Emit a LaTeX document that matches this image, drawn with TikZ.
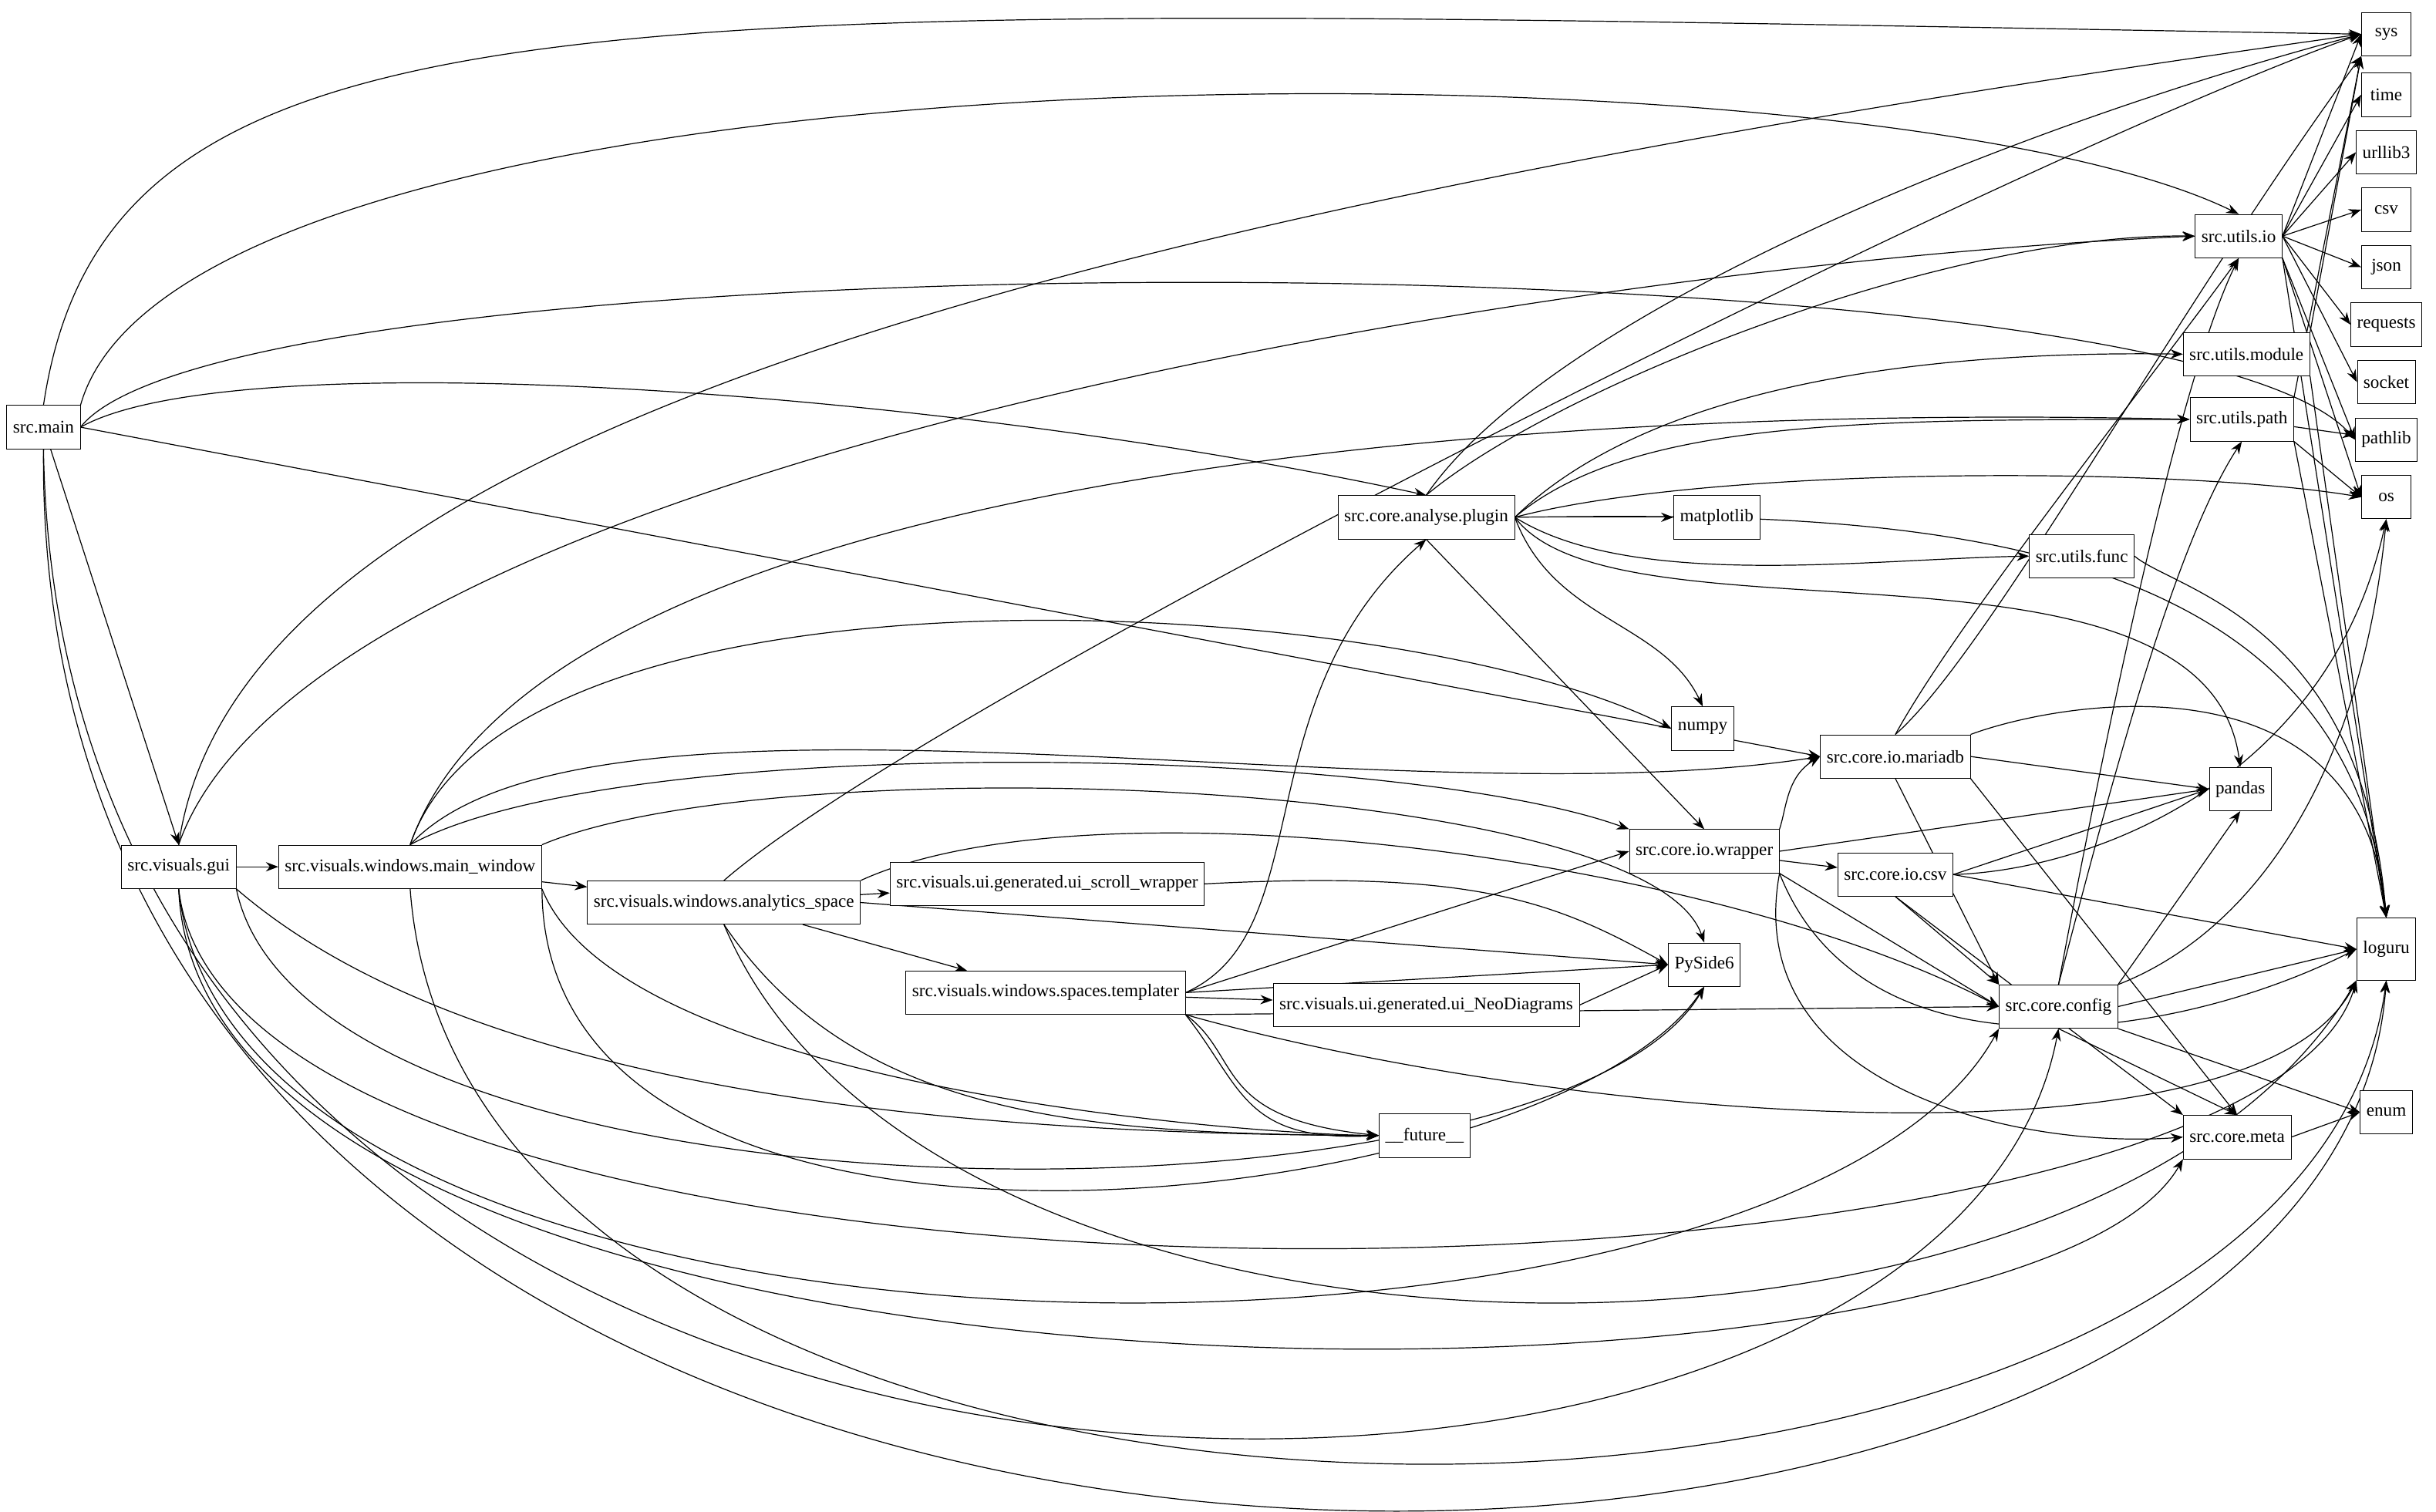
\documentclass[tikz,border=0pt]{standalone}
\usepackage{fontspec}
\setmainfont{Liberation Serif}
\usetikzlibrary{arrows.meta}
\pgfdeclarelayer{bg}
\pgfsetlayers{bg,main}
\begin{document}
\begin{tikzpicture}[x=1pt,y=-1pt,
 nd/.style={draw,fill=white,rectangle,minimum height=28pt,minimum width=32pt,inner xsep=4pt,font=\fontsize{11.5}{13}\selectfont},
 e/.style={-{Stealth[length=8pt,width=6pt]},line width=0.6pt}]
\useasboundingbox (0,0) rectangle (1568,973);
\node[nd] (sys) at (1536,22) {sys};
\node[nd] (time) at (1536,61) {time};
\node[nd] (urllib) at (1536,98) {urllib3};
\node[nd] (csv) at (1536,135) {csv};
\node[nd] (json) at (1536,172) {json};
\node[nd] (requests) at (1536,209) {requests};
\node[nd] (socket) at (1536,246) {socket};
\node[nd] (pathlib) at (1536,283) {pathlib};
\node[nd] (os) at (1536,320) {os};
\node[nd,minimum height=40pt] (loguru) at (1536,611) {loguru};
\node[nd] (enum) at (1536,716) {enum};
\node[nd] (uio) at (1441,152) {src.utils.io};
\node[nd] (umod) at (1446,228) {src.utils.module};
\node[nd] (upath) at (1443,270) {src.utils.path};
\node[nd] (ufunc) at (1340,358) {src.utils.func};
\node[nd] (plugin) at (918,333) {src.core.analyse.plugin};
\node[nd] (mpl) at (1105,333) {matplotlib};
\node[nd] (numpy) at (1096,469) {numpy};
\node[nd] (maria) at (1220,487) {src.core.io.mariadb};
\node[nd] (pandas) at (1442,508) {pandas};
\node[nd] (wrap) at (1097,548) {src.core.io.wrapper};
\node[nd] (iocsv) at (1220,563) {src.core.io.csv};
\node[nd] (pyside) at (1097,621) {PySide6};
\node[nd] (config) at (1325,648) {src.core.config};
\node[nd] (meta) at (1440,732) {src.core.meta};
\node[nd] (future) at (917,731) {\_\_future\_\_};
\node[nd] (main) at (28,275) {src.main};
\node[nd] (gui) at (115,558) {src.visuals.gui};
\node[nd] (mw) at (264,558) {src.visuals.windows.main\_window};
\node[nd] (as) at (466,581) {src.visuals.windows.analytics\_space};
\node[nd] (scroll) at (674,569) {src.visuals.ui.generated.ui\_scroll\_wrapper};
\node[nd] (tmpl) at (673,639) {src.visuals.windows.spaces.templater};
\node[nd] (neo) at (918,647) {src.visuals.ui.generated.ui\_NeoDiagrams};
\begin{pgfonlayer}{bg}
% src.main
\draw[e] (main.north) .. controls (70,-20) and (400,3) .. (sys.west);
\draw[e] (main.north east) .. controls (120,20) and (1200,20) .. (uio.north);
\draw[e] (main.east) .. controls (150,150) and (1400,150) .. (pathlib.west);
\draw[e] (main.east) .. controls (150,220) and (600,250) .. (plugin.north);
\draw[e] (main.east) -- (maria.west);
\draw[e] (main) -- (gui.north);
\draw[e] (main.south) .. controls (40,1060) and (1250,1060) .. (config.south);
\draw[e] (main.south) .. controls (20,1150) and (1500,1117) .. (loguru.south);
% gui
\draw[e] (gui.north) .. controls (150,300) and (600,150) .. (sys.west);
\draw[e] (gui.north) .. controls (200,300) and (1000,170) .. (uio.west);
\draw[e] (gui) -- (mw);
\draw[e] (gui.south east) .. controls (300,700) and (600,730) .. (future.west);
\draw[e] (gui.south) .. controls (150,910) and (1150,910) .. (config.south west);
\draw[e] (gui.south) .. controls (130,930) and (1300,930) .. (meta.south west);
\draw[e] (gui.south) .. controls (150,880) and (1450,860) .. (loguru.south west);
\draw[e] (gui.south east) .. controls (200,800) and (1000,800) .. (pyside.south);
% main_window
\draw[e] (mw.north) .. controls (350,300) and (1000,260) .. (upath.west);
\draw[e] (mw.north) .. controls (330,350) and (900,380) .. (numpy.west);
\draw[e] (mw.north) .. controls (380,420) and (900,530) .. (maria.west);
\draw[e] (mw.north) .. controls (400,470) and (900,480) .. (wrap.north west);
\draw[e] (mw.north east) .. controls (500,480) and (1060,500) .. (pyside.north);
\draw[e] (mw) -- (as);
\draw[e] (mw.south east) .. controls (400,700) and (800,730) .. (future.west);
\draw[e] (mw.south) .. controls (300,1060) and (1480,1050) .. (loguru.south);
\draw[e] (mw.south east) .. controls (350,860) and (1000,780) .. (pyside.south);
% analytics_space
\draw[e] (as.north) .. controls (600,450) and (1300,100) .. (sys.west);
\draw[e] (as) -- (scroll);
\draw[e] (as.east) -- (pyside.west);
\draw[e] (as) -- (tmpl);
\draw[e] (as.south) .. controls (550,720) and (700,730) .. (future.west);
\draw[e] (as.north east) .. controls (700,500) and (1100,550) .. (config.west);
\draw[e] (as.south) .. controls (600,913) and (1350,913) .. (loguru.south west);
\draw[e] (scroll.east) .. controls (950,560) and (1000,580) .. (pyside.west);
\draw[e] (neo.east) -- (pyside.west);
% templater
\draw[e] (tmpl.east) .. controls (850,600) and (800,450) .. (plugin.south);
\draw[e] (tmpl.east) -- (wrap.west);
\draw[e] (tmpl.east) -- (pyside.west);
\draw[e] (tmpl) -- (neo);
\draw[e] (tmpl.south east) -- (config.west);
\draw[e] (tmpl.south east) .. controls (800,680) and (780,720) .. (future.west);
\draw[e] (tmpl.south east) .. controls (800,700) and (800,735) .. (future.west);
\draw[e] (tmpl.south east) .. controls (1000,720) and (1450,760) .. (loguru.south west);
% plugin
\draw[e] (plugin.north) .. controls (1000,200) and (1300,80) .. (sys.west);
\draw[e] (plugin.north) .. controls (1000,250) and (1250,150) .. (uio.west);
\draw[e] (plugin.east) .. controls (1050,260) and (1200,225) .. (umod.west);
\draw[e] (plugin.east) .. controls (1050,270) and (1200,270) .. (upath.west);
\draw[e] (plugin.east) .. controls (1100,300) and (1400,300) .. (os.west);
\draw[e] (plugin) -- (mpl);
\draw[e] (plugin.east) .. controls (1200,330) and (1510,330) .. (loguru.north);
\draw[e] (plugin.east) .. controls (1050,380) and (1200,360) .. (ufunc.west);
\draw[e] (plugin.east) .. controls (1040,420) and (1420,330) .. (pandas.north);
\draw[e] (plugin.east) .. controls (1000,400) and (1070,400) .. (numpy.north);
\draw[e] (plugin.south) -- (wrap.north);
\draw[e] (ufunc.east) .. controls (1400,380) and (1520,400) .. (loguru.north);
% utils
\draw[e] (uio.east) -- (sys.west);
\draw[e] (uio.east) -- (time.west);
\draw[e] (uio.east) -- (urllib.west);
\draw[e] (uio.east) -- (csv.west);
\draw[e] (uio.east) -- (json.west);
\draw[e] (uio.east) -- (requests.west);
\draw[e] (uio.east) -- (socket.west);
\draw[e] (uio.south east) -- (pathlib.west);
\draw[e] (uio.south east) -- (os.west);
\draw[e] (uio.south east) -- (loguru.north);
\draw[e] (umod.north east) -- (sys.south west);
\draw[e] (umod.south east) -- (loguru.north);
\draw[e] (upath.north east) -- (sys.south west);
\draw[e] (upath) -- (pathlib);
\draw[e] (upath.south east) -- (os.west);
\draw[e] (upath.south east) -- (loguru.north);
% core
\draw[e] (maria.north) .. controls (1260,400) and (1380,250) .. (uio.south);
\draw[e] (maria.north) .. controls (1280,420) and (1400,200) .. (sys.south west);
\draw[e] (maria.east) -- (pandas.west);
\draw[e] (maria.south) -- (config.north west);
\draw[e] (maria.south east) -- (meta.north);
\draw[e] (maria.north east) .. controls (1330,450) and (1520,420) .. (loguru.north);
\draw[e] (wrap.north east) .. controls (1150,520) and (1150,500) .. (maria.west);
\draw[e] (wrap.east) -- (pandas.west);
\draw[e] (wrap) -- (iocsv);
\draw[e] (wrap.south east) -- (config.west);
\draw[e] (wrap.south east) .. controls (1200,700) and (1400,670) .. (loguru.west);
\draw[e] (wrap.south east) .. controls (1120,700) and (1300,740) .. (meta.west);
\draw[e] (iocsv.east) -- (pandas.west);
\draw[e] (iocsv.south) -- (config.north west);
\draw[e] (iocsv.south) -- (meta.north west);
\draw[e] (iocsv.east) -- (loguru.west);
\draw[e] (iocsv.east) .. controls (1350,560) and (1500,500) .. (os.south);
\draw[e] (config.north) .. controls (1350,500) and (1400,250) .. (uio.south);
\draw[e] (config.north) .. controls (1360,500) and (1400,350) .. (upath.south);
\draw[e] (config.north east) -- (pandas.south);
\draw[e] (config.north east) .. controls (1450,600) and (1520,500) .. (os.south);
\draw[e] (config.east) -- (loguru.west);
\draw[e] (config.south) -- (meta.north);
\draw[e] (config.south east) -- (enum.west);
\draw[e] (meta.east) -- (enum.west);
\end{pgfonlayer}
\end{tikzpicture}
\end{document}
